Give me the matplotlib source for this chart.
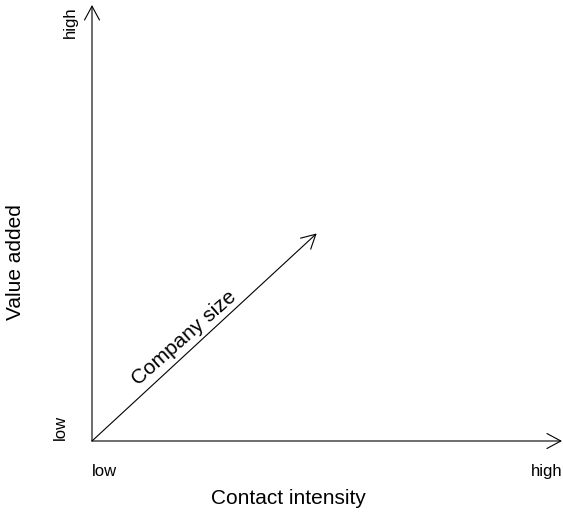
import matplotlib.pyplot as plt
from matplotlib.patches import FancyArrowPatch

plt.rcParams['font.family'] = ['Liberation Sans', 'DejaVu Sans']

# arrows: (start, end) in axis units 0..1
arrow_starts = [(0, 0), (0, 0), (0, 0)]
arrow_ends = [(0, 1), (1, 0), (0.478, 0.476)]

x_label = "Contact intensity"
y_label = "Value added"
diag_label = "Company size"
low_high = ["low", "high"]

fig = plt.figure(figsize=(5.63, 5.12), dpi=100)
ax = fig.add_axes([92 / 563, 71 / 512, 470 / 563, 436 / 512])
ax.set_xlim(0, 1)
ax.set_ylim(0, 1)
ax.axis("off")

for s, e in zip(arrow_starts, arrow_ends):
    ax.add_patch(FancyArrowPatch(s, e, arrowstyle="->,head_length=10,head_width=5.4",
                                 mutation_scale=1, lw=0.8, color="black",
                                 shrinkA=0, shrinkB=0, clip_on=False))

# tick-like labels
ax.text(0, -0.080, low_high[0], fontsize=12, ha="left", va="baseline", clip_on=False)
ax.text(1, -0.080, low_high[1], fontsize=12, ha="right", va="baseline", clip_on=False)
ax.text(-0.057, 0.002, low_high[0], fontsize=12, rotation=90, ha="left",
        va="baseline", rotation_mode="anchor", clip_on=False)
ax.text(-0.036, 0.996, low_high[1], fontsize=12, rotation=90, ha="right",
        va="baseline", rotation_mode="anchor", clip_on=False)

# axis titles
ax.text(0.418, -0.1445, x_label, fontsize=15, ha="center", va="baseline", clip_on=False)
ax.text(-0.151, 0.41, y_label, fontsize=15, rotation=90, ha="center",
        va="baseline", rotation_mode="anchor", clip_on=False)

# label along the diagonal
ax.text(0.196, 0.236, diag_label, fontsize=15, rotation=41.5, ha="center",
        va="center", rotation_mode="anchor", clip_on=False)

fig.savefig("out.png", dpi=100)
